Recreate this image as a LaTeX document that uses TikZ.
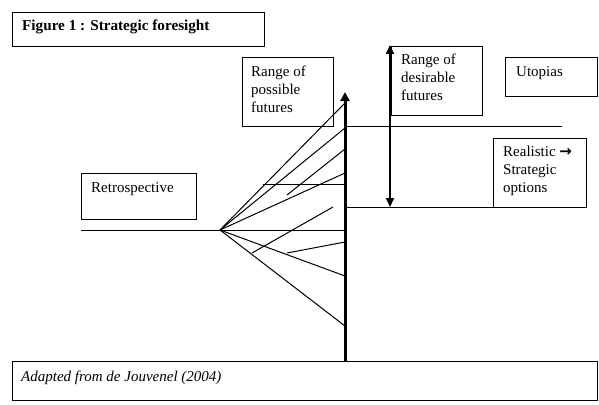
\documentclass[tikz,border=0pt]{standalone}
\usepackage{fontspec}
\setmainfont{Liberation Serif}
\newfontfamily\arrowfont{DejaVu Sans}
\usetikzlibrary{arrows.meta}
\begin{document}
\begin{tikzpicture}[x=1pt,y=-1pt,
  box/.style={draw, line width=1pt, anchor=north west, inner sep=0pt},
  lbl/.style={anchor=base west, inner sep=0pt, align=left, font=\fontsize{15}{18}\selectfont},
  thinline/.style={line width=1pt}
]
\useasboundingbox (0,0) rectangle (599,404);
% boxes
\node[box, minimum width=252pt, minimum height=34pt] (titlebox) at (12,12) {};
\node[box, minimum width=91pt, minimum height=69pt] (possbox) at (242,57) {};
\node[box, minimum width=91pt, minimum height=69pt] (desbox) at (391,46) {};
\node[box, minimum width=92pt, minimum height=39pt] (utobox) at (505,57) {};
\node[box, minimum width=93pt, minimum height=69pt] (realbox) at (493,138) {};
\node[box, minimum width=115pt, minimum height=46pt] (retrobox) at (81,173) {};
\node[box, minimum width=585pt, minimum height=39pt] (srcbox) at (12,361) {};
% texts (base anchor = baseline of last line)
\node[lbl, font=\fontsize{15.2}{18}\selectfont\bfseries] (title) at (22,31) {Figure 1 : Strategic foresight};
\node[lbl] (poss) at (251,112) {Range of\\possible\\futures};
\node[lbl] (des) at (401,100) {Range of\\desirable\\futures};
\node[lbl] (uto) at (516,76) {Utopias};
\node[lbl] (real) at (503,192) {Realistic {\arrowfont\bfseries\fontsize{15}{18}\selectfont →}\\Strategic\\options};
\node[lbl] (retro) at (91,192) {Retrospective};
\node[lbl, font=\fontsize{15}{18}\selectfont\itshape] (src) at (21,381) {Adapted from de Jouvenel (2004)};
% coordinates
\coordinate (O) at (220,230);
\coordinate (axb) at (345,361);
\coordinate (axt) at (345,92);
\coordinate (dt) at (390,45);
\coordinate (db) at (390,207);
% axis
\draw[line width=3pt, -{Triangle[length=9pt,width=9pt]}] (axb) -- (axt);
\draw[line width=2pt, {Triangle[length=9pt,width=8pt]}-{Triangle[length=9pt,width=8pt]}] (dt) -- (db);
% horizontals
\draw[thinline] (345,126) -- (562,126);
\draw[thinline] (345,207) -- (586,207);
\draw[thinline] (81,230) -- (345,230);
\draw[thinline] (263,184) -- (345,184);
% fan
\draw[thinline] (O) -- (345,103);
\draw[thinline] (O) -- (345,128);
\draw[thinline] (287,195) -- (345,149);
\draw[thinline] (O) -- (345,173);
\draw[thinline] (252,253) -- (333,207);
\draw[thinline] (287,253) -- (345,242);
\draw[thinline] (O) -- (345,276);
\draw[thinline] (O) -- (345,326);
\end{tikzpicture}
\end{document}
